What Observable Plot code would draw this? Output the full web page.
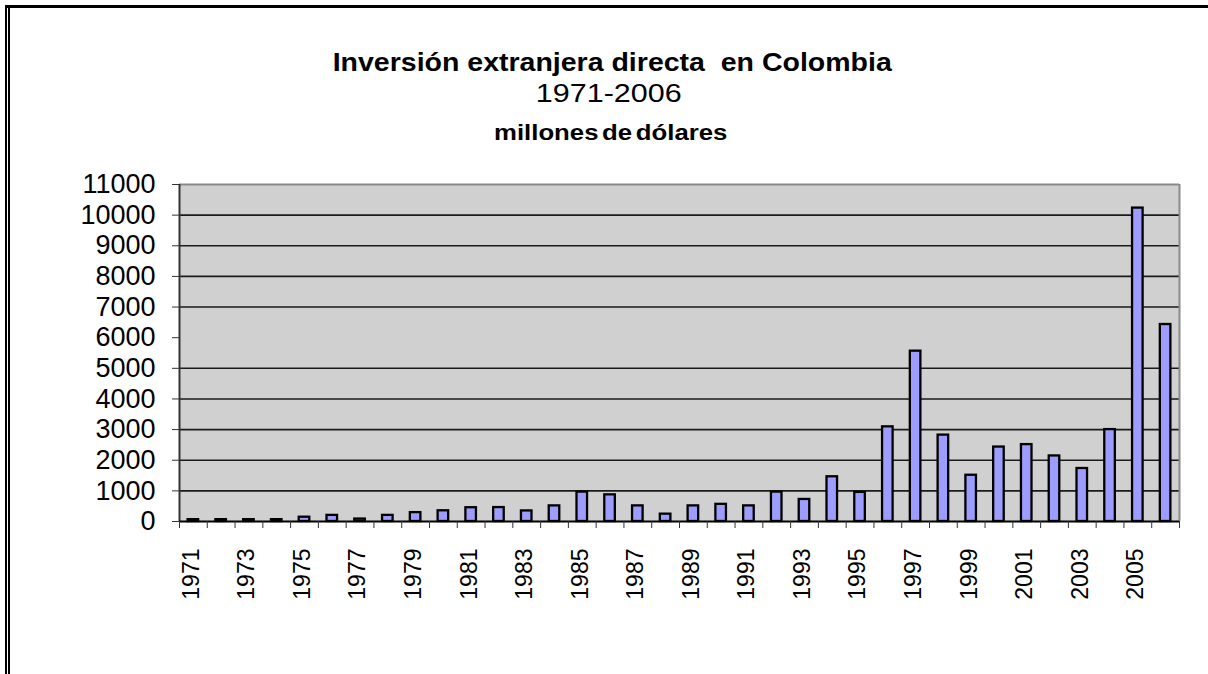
<!DOCTYPE html>
<html>
<head>
<meta charset="utf-8">
<script src="https://cdn.jsdelivr.net/npm/d3@7"></script>
<script src="https://cdn.jsdelivr.net/npm/@observablehq/plot@0.6"></script>
<style>
  html, body { margin: 0; padding: 0; background: #fff; width: 1208px; height: 674px; overflow: hidden; }
  body { position: relative; font-family: "Liberation Sans", Arial, sans-serif; }
  #frameTop { position: absolute; left: 5px; top: 5px; width: 1203px; height: 0; border-top: 3px solid #000; }
  #frameLeft { position: absolute; left: 5px; top: 5px; width: 0; height: 669px; border-left: 5px double #000; }
  #titles { position: relative; height: 150px; color: #000; }
  .t { position: absolute; left: 8px; width: 1208px; text-align: center; line-height: 1; white-space: pre; }
  .t span { display: inline-block; transform: scaleX(1.14); transform-origin: 50% 50%; }
  #t1 { top: 49.5px; font-size: 25px; font-weight: bold; }
  #t2 { top: 81px; font-size: 25px; font-weight: normal; left: 5px; }
  #t2 span { transform: scaleX(1.22); }
  #t3 { top: 122px; font-size: 22px; font-weight: bold; word-spacing: -3px; left: 7px; }
  #t3 span { transform: scaleX(1.17); }
  #chart svg { display: block; }
</style>
</head>
<body>
<div id="frameTop"></div>
<div id="frameLeft"></div>
<div id="titles">
  <div class="t" id="t1"><span>Inversión extranjera directa  en Colombia</span></div>
  <div class="t" id="t2"><span>1971-2006</span></div>
  <div class="t" id="t3"><span>millones de dólares</span></div>
</div>
<div id="chart"></div>
<script>
const years = [1971,1972,1973,1974,1975,1976,1977,1978,1979,1980,1981,1982,1983,1984,1985,1986,1987,1988,
               1989,1990,1991,1992,1993,1994,1995,1996,1997,1998,1999,2000,2001,2002,2003,2004,2005,2006];
const values = [60,60,60,60,140,200,80,200,290,350,450,455,345,510,960,870,510,240,
                510,560,510,960,720,1460,950,3090,5560,2820,1510,2430,2510,2140,1730,3000,10230,6430];
const xTickLabels = [1971,1973,1975,1977,1979,1981,1983,1985,1987,1989,1991,1993,1995,1997,1999,2001,2003,2005];
const yTicks = [0,1000,2000,3000,4000,5000,6000,7000,8000,9000,10000,11000];
const gridValues = [1000,2000,3000,4000,5000,7000,8000,9000,10000];

const data = years.map((year, i) => ({year, value: values[i]}));
const boundaries = years.map(y => y - 0.5).concat([years[years.length - 1] + 0.5]);
const xDomain = [years[0] - 0.5, years[years.length - 1] + 0.5];
const yDomain = [yTicks[0], yTicks[yTicks.length - 1]];

const chart = Plot.plot({
  width: 1208,
  height: 524,
  marginTop: 34,
  marginBottom: 153,
  marginLeft: 179,
  marginRight: 29,
  style: {fontFamily: '"Liberation Sans", Arial, sans-serif', color: "#000", background: "transparent"},
  x: {domain: xDomain, axis: null},
  y: {domain: yDomain, axis: null},
  marks: [
    Plot.frame({fill: "#d0d0d0", stroke: null}),
    Plot.ruleY(gridValues, {stroke: "#1a1a1a", strokeWidth: 1.6}),
    Plot.ruleY([yDomain[1]], {stroke: "#8a8a8a", strokeWidth: 2}),
    Plot.ruleX([xDomain[1]], {stroke: "#8a8a8a", strokeWidth: 2}),
    Plot.rectY(data, {
      x1: d => d.year - 0.19,
      x2: d => d.year + 0.19,
      y: "value",
      fill: "#9d9dff",
      stroke: "#000",
      strokeWidth: 2.3,
      insetLeft: 0, insetRight: 0
    }),
    Plot.ruleX([xDomain[0]], {stroke: "#333", strokeWidth: 2}),
    Plot.ruleY([0], {stroke: "#000", strokeWidth: 2}),
    Plot.axisY({ticks: yTicks, tickSize: 7, tickPadding: 17, fontSize: 27, label: null, tickFormat: d => String(d), stroke: "#333"}),
    Plot.axisX({ticks: boundaries, tickSize: 7, label: null, tickFormat: () => "", stroke: "#333"}),
    Plot.axisX({ticks: xTickLabels, tickSize: 0, tickPadding: 27, tickRotate: -90, fontSize: 23, label: null, dx: -2, tickFormat: d => String(d)})
  ]
});
document.getElementById("chart").appendChild(chart);
</script>
</body>
</html>
